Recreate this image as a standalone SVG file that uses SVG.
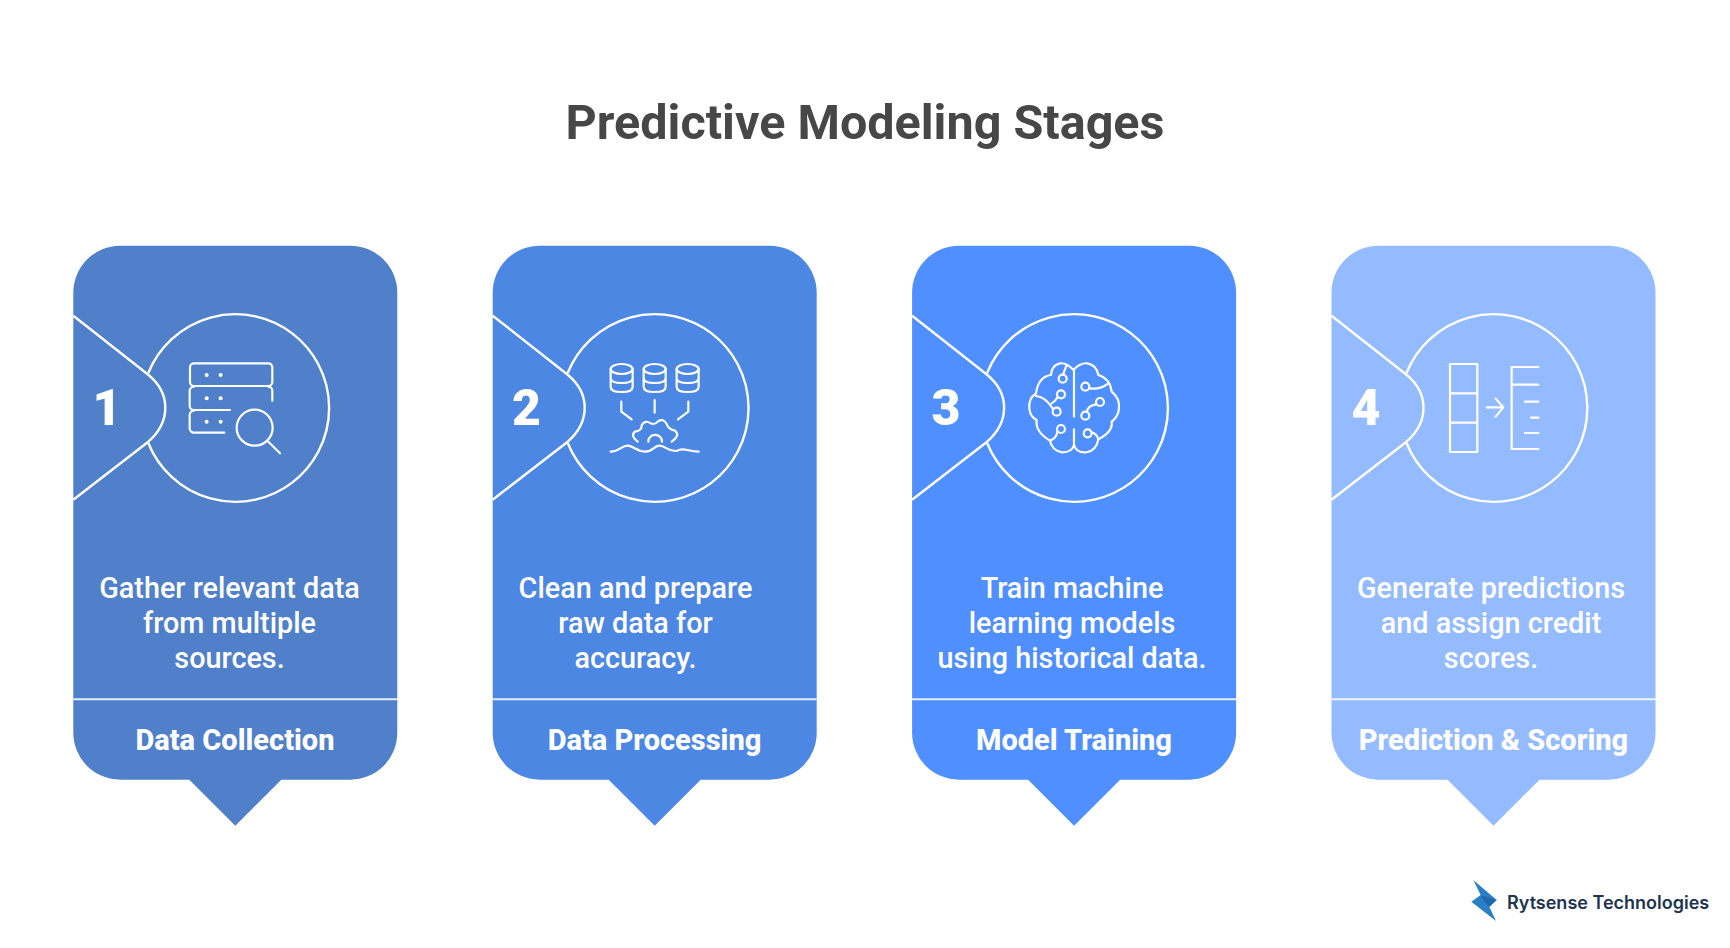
<svg xmlns="http://www.w3.org/2000/svg" width="1730" height="948" viewBox="0 0 1730 948">
<style>
.t{font-family:Roboto,"Liberation Sans",sans-serif;fill:#fff;text-anchor:middle}
.title{font-family:Roboto,"Liberation Sans",sans-serif;font-weight:700;font-size:48.500px;fill:#474747;text-anchor:middle}
.n{font-size:50px;font-weight:900}
.d{font-size:28.800px;font-weight:500}
.h{font-size:29px;font-weight:800}
.l{fill:none;stroke:#fff;stroke-width:2.4}
.i{fill:none;stroke:#fff;stroke-width:6.5;stroke-linecap:round;stroke-linejoin:round}
.dot{fill:#fff}
</style>
<defs>
<path id="card" d="M47 0H277A47 47 0 0 1 324 47V487A47 47 0 0 1 277 534H208L162 580L116 534H47A47 47 0 0 1 0 487V47A47 47 0 0 1 47 0Z"/>
<g id="frame">
<path class="l" d="M0 70L75 129Q92 143 92 162Q92 181 75 196L0 254"/>
<path class="l" d="M75 127.300A93.800 93.800 0 1 1 75 197.300"/>
<path d="M0 453.500H324" fill="none" stroke="#fff" stroke-opacity=".85" stroke-width="2"/>
</g>
</defs>
<rect width="1730" height="948" fill="#fff"/>
<text class="title" x="865" y="139">Predictive Modeling Stages</text>

<g id="connectors"/>

<g id="stage1">
<use href="#card" x="73.300" y="245.700" fill="#5080c9"/>
<use href="#frame" x="73.300" y="245.700"/>
<text class="t n" x="107" y="425">1</text>
<g transform="translate(60 230) scale(.3333)">
<path class="i" d="M402 400H625A12 12 0 0 1 637 412V456A12 12 0 0 1 625 468H402A12 12 0 0 1 390 456V412A12 12 0 0 1 402 400Z"/>
<path class="i" d="M402 470A13 13 0 0 0 389 483V527A13 13 0 0 0 402 540H510M625 470A12 12 0 0 1 637 482V512"/>
<path class="i" d="M402 542A13 13 0 0 0 389 555V595A13 13 0 0 0 402 608H493"/>
<circle class="i" cx="584" cy="593" r="54"/>
<path class="i" d="M622 632L660 670"/>
<g class="dot"><circle cx="440" cy="435" r="6"/><circle cx="482" cy="435" r="6"/><circle cx="440" cy="505" r="6"/><circle cx="482" cy="505" r="6"/><circle cx="440" cy="575" r="6"/><circle cx="482" cy="575" r="6"/></g>
</g>
<text class="t d" x="229.500" y="598">Gather relevant data</text>
<text class="t d" x="229.500" y="633">from multiple</text>
<text class="t d" x="229.500" y="668">sources.</text>
<text class="t h" x="235" y="750">Data Collection</text>
</g>

<g id="stage2">
<use href="#card" x="492.700" y="245.700" fill="#4d87e4"/>
<use href="#frame" x="492.700" y="245.700"/>
<text class="t n" x="526.500" y="425">2</text>
<g transform="translate(480 300) scale(.3333)">
<g><ellipse class="i" cx="425" cy="207" rx="33" ry="15"/><path class="i" d="M392 207V260Q392 276 425 276Q458 276 458 260V207M392 234Q392 249 425 249Q458 249 458 234"/></g>
<g><ellipse class="i" cx="524" cy="207" rx="33" ry="15"/><path class="i" d="M491 207V260Q491 276 524 276Q557 276 557 260V207M491 234Q491 249 524 249Q557 249 557 234"/></g>
<g><ellipse class="i" cx="623" cy="207" rx="33" ry="15"/><path class="i" d="M590 207V260Q590 276 623 276Q656 276 656 260V207M590 234Q590 249 623 249Q656 249 656 234"/></g>
<path class="i" d="M424 305V335L455 358M524 300V338M625 305V335L594 358"/>
<path class="i" d="M473 425Q450 408 465 395Q486 392 485 376Q495 358 512 370Q524 376 534 364Q550 354 560 372Q565 388 585 392Q602 406 575 425"/>
<path class="i" d="M505 425A20 20 0 0 1 546 425"/>
<path class="i" d="M392 455C420 455 425 435 445 437C465 440 470 455 495 455C520 455 520 438 538 437C558 437 562 455 590 453C610 440 625 455 656 455"/>
</g>
<text class="t d" x="635.500" y="598">Clean and prepare</text>
<text class="t d" x="635.500" y="633">raw data for</text>
<text class="t d" x="635.500" y="668">accuracy.</text>
<text class="t h" x="654.500" y="750">Data Processing</text>
</g>

<g id="stage3">
<use href="#card" x="912.100" y="245.700" fill="#4f8fff"/>
<use href="#frame" x="912.100" y="245.700"/>
<text class="t n" x="946" y="425">3</text>
<g transform="translate(950 310) scale(.3333)">
<path class="i" d="M368 178Q350 158 330 160Q305 165 303 195Q265 200 258 250Q235 265 238 295Q240 320 260 330Q255 365 300 392Q305 420 335 427Q365 428 372 405V358"/>
<path class="i" d="M372 178Q392 158 412 160Q440 165 445 195Q480 205 485 245Q510 265 507 295Q505 320 485 335Q490 365 445 388Q440 420 410 427Q380 430 372 405"/>
<path class="i" d="M372 178V320M350 165L339 194M322 262Q318 272 305 280M258 258Q285 260 308 295M322 366Q320 385 300 392M418 235Q450 240 475 220M440 283Q415 285 410 305M425 367Q440 370 445 388"/>
<circle class="i" cx="338" cy="206" r="12"/><circle class="i" cx="333" cy="253" r="12"/><circle class="i" cx="320" cy="305" r="12"/><circle class="i" cx="333" cy="357" r="12"/>
<circle class="i" cx="406" cy="230" r="12"/><circle class="i" cx="450" cy="276" r="12"/><circle class="i" cx="406" cy="317" r="12"/><circle class="i" cx="413" cy="370" r="12"/>
</g>
<text class="t d" x="1072" y="598">Train machine</text>
<text class="t d" x="1072" y="633">learning models</text>
<text class="t d" x="1072" y="668">using historical data.</text>
<text class="t h" x="1074" y="750">Model Training</text>
</g>

<g id="stage4">
<use href="#card" x="1331.500" y="245.700" fill="#94bbff"/>
<use href="#frame" x="1331.500" y="245.700"/>
<text class="t n" x="1366" y="425">4</text>
<g transform="translate(1330 300) scale(.3333)">
<path class="i" stroke-linecap="butt" d="M360 192H442V456H360ZM360 280H442M360 368H442"/>
<path class="i" d="M470 322H520M497 296L520 322L497 350"/>
<path class="i" d="M625 201H545V447H625M545 254H625M585 305H625M603 353H625M585 399H625"/>
</g>
<text class="t d" x="1491" y="598">Generate predictions</text>
<text class="t d" x="1491" y="633">and assign credit</text>
<text class="t d" x="1491" y="668">scores.</text>
<text class="t h" x="1493.500" y="750">Prediction &amp; Scoring</text>
</g>

<g id="logo">
<g transform="translate(1450 860) scale(.3333)">
<polygon points="70,60 140,120 118,140 138,183 64,125 92,105" fill="#2a7fc9"/>
<polygon points="92,105 140,120 118,140 105,128" fill="#1f68ad"/>
</g>
<text x="1507" y="909" font-family="Inter,'Open Sans',sans-serif" font-size="18" font-weight="600" fill="#1e3350">Rytsense Technologies</text>
</g>
</svg>
